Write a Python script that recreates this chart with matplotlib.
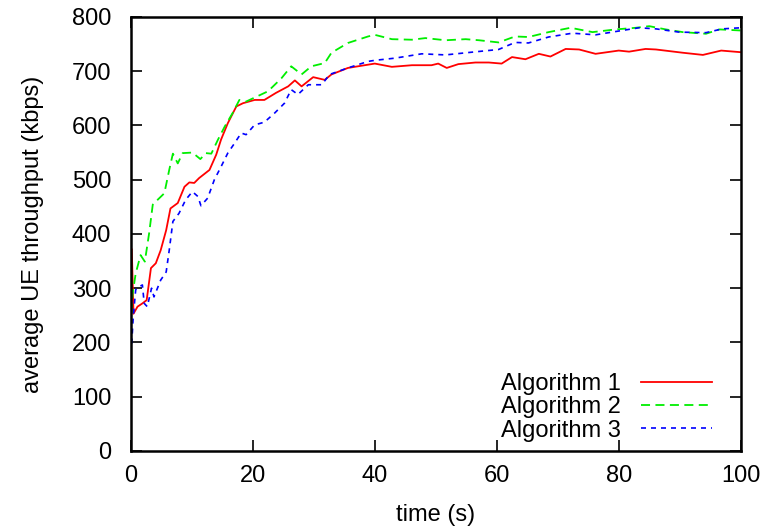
import matplotlib
matplotlib.use("Agg")
import matplotlib.pyplot as plt

# Algorithm 1 (red, solid)
t1 = [0, 0.16, 0.44, 1.1, 1.9, 2.6, 3.3, 4.1, 4.9, 5.8, 6.5, 7.7, 8.8, 9.6, 10.4,
      11.2, 12.9, 14.0, 14.8, 15.9, 17.3, 18.4, 20.3, 21.9, 23.8, 25.8, 26.9, 28.0,
      29.9, 31.8, 32.9, 35.6, 38.9, 40.0, 42.8, 46.1, 49.3, 50.4, 51.8, 53.7, 56.5,
      58.7, 60.8, 62.5, 64.7, 66.9, 68.8, 71.3, 73.5, 76.2, 80.0, 81.7, 84.4, 86.1,
      88.3, 90.5, 93.8, 96.8, 100]
v1 = [372, 372, 253, 266, 272, 278, 337, 346, 370, 407, 447, 457, 487, 495, 494,
      503, 518, 546, 574, 604, 635, 641, 647, 647, 660, 672, 683, 672,
      689, 684, 694, 706, 712, 714, 708, 711, 711, 714, 706, 713, 716,
      716, 714, 726, 722, 732, 727, 741, 740, 732, 738, 736, 741, 740,
      737, 734, 730, 738, 735]

# Algorithm 2 (green, dashed)
t2 = [0.1, 0.3, 0.8, 1.6, 2.3, 3.0, 3.6, 4.4, 5.5, 6.3, 6.9, 7.7, 8.5, 10.1, 11.4,
      12.3, 13.2, 14.3, 15.4, 16.7, 17.8, 18.9, 20.8, 22.5, 24.7, 26.3, 28.0, 29.6,
      31.8, 32.9, 35.6, 38.9, 40.0, 42.8, 46.1, 48.3, 51.6, 54.9, 57.1, 60.3, 63.0,
      65.2, 68.5, 72.1, 75.7, 79.5, 82.8, 85.0, 87.7, 90.5, 94.3, 96.5, 100]
v2 = [255, 290, 327, 361, 349, 401, 454, 463, 475, 518, 548, 530, 549, 550, 538,
      549, 548, 574, 598, 623, 647, 644, 654, 663, 687, 709, 694, 709,
      715, 734, 752, 764, 767, 759, 758, 761, 757, 759, 757, 753, 764,
      763, 772, 780, 772, 777, 780, 783, 777, 772, 769, 777, 775]

# Algorithm 3 (blue, short dashes)
t3 = [0.15, 0.4, 0.8, 1.4, 1.9, 2.2, 2.7, 3.4, 3.8, 4.9, 5.8, 6.3, 6.9, 7.9, 9.0,
      10.1, 11.0, 11.5, 12.6, 13.7, 14.8, 15.9, 17.0, 18.1, 18.9, 20.3, 21.9, 23.6,
      25.2, 26.3, 27.4, 29.1, 31.3, 32.6, 35.6, 38.9, 40.0, 43.3, 47.7, 51.6, 55.9,
      60.3, 63.0, 65.2, 68.5, 72.4, 76.2, 80.0, 83.3, 86.1, 89.9, 94.3, 97.0, 100]
v3 = [198, 247, 297, 303, 306, 272, 266, 300, 284, 315, 330, 370, 423, 438, 463,
      478, 469, 452, 466, 500, 524, 549, 567, 586, 583, 601, 606, 623,
      641, 666, 657, 675, 675, 694, 706, 718, 720, 724, 732, 730, 735,
      740, 753, 752, 763, 770, 767, 774, 780, 778, 772, 771, 778, 780]

plt.rcParams['font.family'] = ['Liberation Sans', 'DejaVu Sans']
fs = 17

fig = plt.figure(figsize=(7.74, 5.29), dpi=100)
ax = fig.add_axes([0.169, 0.1475, 0.788, 0.8205])

ax.plot(t1, v1, color='#ff0000', lw=1.3, label='Algorithm 1')
ax.plot(t2, v2, color='#00ee00', lw=1.3, dashes=(5, 3), label='Algorithm 2')
ax.plot(t3, v3, color='#0000ff', lw=1.2, dashes=(3, 3), label='Algorithm 3')

ax.set_xlim(0, 100)
ax.set_ylim(0, 800)
ax.set_xticks(range(0, 101, 20))
ax.set_yticks(range(0, 801, 100))
ax.tick_params(direction='in', top=True, right=True, length=8, width=1.2,
               labelsize=fs)
ax.tick_params(axis='y', pad=14)
ax.tick_params(axis='x', pad=10)
for s in ax.spines.values():
    s.set_linewidth(1.8)

ax.set_xlabel('time (s)', fontsize=fs, labelpad=12)
ax.set_ylabel('average UE throughput (kbps)', fontsize=fs, labelpad=20)

ax.legend(loc='lower right', bbox_to_anchor=(0.968, 0.0), borderaxespad=0,
          frameon=False, markerfirst=False, fontsize=fs,
          handlelength=3.0, handletextpad=0.85, labelspacing=0.05)

fig.savefig('out.png', dpi=100)
